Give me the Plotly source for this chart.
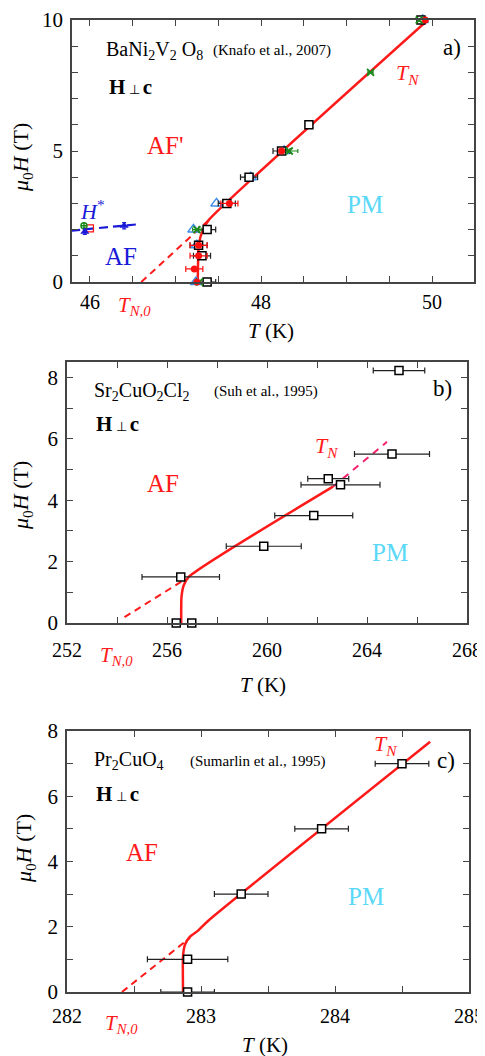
import plotly.graph_objects as go

# page is offset by the 8px body margin, so the figure is sized to fit the window
OFF = 8
W, H = 485 - OFF, 1056 - OFF
FONT = "Liberation Serif"
RED = "#ff1a1a"
PINK = "#f5206e"
BLUE_TXT = "#1a1ad8"
CYAN = "#5ad8f8"
LBLUE = "#3f8fe8"
GREEN = "#1a8a1a"

# ---------------- Panel a: BaNi2V2O8 ----------------
a_sq_T = [47.37, 47.31, 47.27, 47.37, 47.60, 47.86, 48.24, 48.56, 49.87]
a_sq_H = [0, 1.0, 1.4, 2.0, 3.0, 4.0, 5.0, 6.0, 10.0]
a_sq_err = [0.1, 0.1, 0.1, 0.1, 0.1, 0.1, 0.1, 0.0, 0.0]

a_ci_T = [47.25, 47.22, 47.27, 47.27, 47.63, 48.24, 49.92]
a_ci_H = [0, 0.5, 1.0, 1.4, 3.0, 5.0, 10.0]
a_ci_err = [0.0, 0.1, 0.1, 0.1, 0.1, 0.0, 0.0]

a_tri_T = [47.24, 47.25, 47.21, 47.48, 47.88, 48.27, 49.89]
a_tri_H = [0, 1.4, 2.0, 3.0, 4.0, 5.0, 10.0]

a_x_T = [47.28, 47.25, 48.33, 49.28, 49.85]
a_x_H = [0, 2.0, 5.0, 8.0, 10.0]
a_x_err = [0.0, 0.05, 0.1, 0.03, 0.0]

a_hs_T = [45.94, 46.40]
a_hs_H = [1.92, 2.15]
a_hs_line_T = [45.78, 46.55]
a_hs_line_H = [1.96, 2.20]
a_hs_green_T = [45.93]
a_hs_green_H = [2.15]
a_hs_red_T = [46.00]
a_hs_red_H = [2.05]

a_solid_T = [47.26, 47.27, 47.29, 47.33, 47.39, 49.95]
a_solid_H = [0, 1.3, 1.7, 2.05, 2.37, 10.0]
a_dash_T = [46.60, 47.39]
a_dash_H = [0, 2.37]

# ---------------- Panel b: Sr2CuO2Cl2 ----------------
b_sq_T = [256.37, 256.99, 256.55, 259.87, 261.87, 262.45, 262.94, 265.00, 265.28]
b_sq_H = [0, 0, 1.5, 2.5, 3.5, 4.7, 4.5, 5.5, 8.22]
b_sq_err = [0, 0, 1.55, 1.5, 1.56, 0.82, 1.58, 1.5, 1.03]

b_solid_T = [256.57, 256.58, 256.67, 256.87, 262.64]
b_solid_H = [0, 0.85, 1.23, 1.5, 4.44]
b_dash_T = [254.30, 256.60]
b_dash_H = [0.19, 1.36]
b_pink_T = [262.64, 264.80]
b_pink_H = [4.44, 5.90]

# ---------------- Panel c: Pr2CuO4 ----------------
c_sq_T = [282.90, 282.90, 283.30, 283.90, 284.50]
c_sq_H = [0, 1.0, 3.0, 5.0, 7.0]
c_sq_err = [0.2, 0.3, 0.2, 0.2, 0.2]

c_solid_T = [282.866, 282.866, 282.88, 282.916, 282.98, 283.05, 284.71]
c_solid_H = [0, 1.1, 1.45, 1.69, 1.89, 2.17, 7.67]
c_dash_T = [282.41, 282.92]
c_dash_H = [0, 1.67]

# axis ticks
a_xticks = [45.5 + 0.5 * i for i in range(11)]
a_yticks = list(range(0, 11))
b_xticks = list(range(252, 269, 2))
b_yticks = list(range(0, 9))
c_xticks = [282 + 0.5 * i for i in range(7)]
c_yticks = list(range(0, 9))


def lab(vals, every):
    out = []
    for v in vals:
        if abs(v / every - round(v / every)) < 1e-6:
            out.append(str(int(round(v))))
        else:
            out.append("")
    return out


fig = go.Figure()


def px(x):
    return (x - OFF) / W


def py(y):
    return 1 - (y - OFF) / H


def sq(T, Hv, err, ax, size=9):
    fig.add_trace(go.Scatter(
        x=T, y=Hv, mode="markers", xaxis=ax[0], yaxis=ax[1],
        marker=dict(symbol="square", size=size, color="white",
                    line=dict(color="black", width=1.5)),
        error_x=dict(type="data", array=err, color="#222", thickness=1.2, width=3),
        showlegend=False, hoverinfo="skip", cliponaxis=False))


def line(T, Hv, ax, color=RED, dash="solid", width=2.5):
    fig.add_trace(go.Scatter(
        x=T, y=Hv, mode="lines", xaxis=ax[0], yaxis=ax[1],
        line=dict(color=color, width=width, dash=dash, shape="spline", smoothing=0.6),
        showlegend=False, hoverinfo="skip"))


A = ("x", "y")
B = ("x2", "y2")
C = ("x3", "y3")

# Panel a lines
line(a_dash_T, a_dash_H, A, dash="7px,5px", width=2)
line(a_solid_T, a_solid_H, A)
line(a_hs_line_T, a_hs_line_H, A, color="#1a1ad8", dash="9px,5px", width=2.2)

# Panel a markers
fig.add_trace(go.Scatter(x=a_tri_T, y=a_tri_H, mode="markers", xaxis="x", yaxis="y",
                         marker=dict(symbol="triangle-up-open", size=10, color=LBLUE,
                                     line=dict(width=1.5)),
                         showlegend=False, hoverinfo="skip", cliponaxis=False))
sq(a_sq_T, a_sq_H, a_sq_err, A, size=8)
fig.add_trace(go.Scatter(x=a_x_T, y=a_x_H, mode="markers", xaxis="x", yaxis="y",
                         marker=dict(symbol="x-thin-open", size=7, color=GREEN,
                                     line=dict(width=1.8, color=GREEN)),
                         error_x=dict(type="data", array=a_x_err, color=GREEN, thickness=1.2, width=2),
                         showlegend=False, hoverinfo="skip", cliponaxis=False))
fig.add_trace(go.Scatter(x=a_ci_T, y=a_ci_H, mode="markers", xaxis="x", yaxis="y",
                         marker=dict(symbol="circle", size=7, color="#ff1010"),
                         error_x=dict(type="data", array=a_ci_err, color="#ff1010", thickness=1.2, width=3),
                         showlegend=False, hoverinfo="skip", cliponaxis=False))
fig.add_trace(go.Scatter(x=a_hs_red_T, y=a_hs_red_H, mode="markers", xaxis="x", yaxis="y",
                         marker=dict(symbol="square-open", size=7, color="#ff1010", line=dict(width=1.2)),
                         showlegend=False, hoverinfo="skip"))
fig.add_trace(go.Scatter(x=a_hs_green_T, y=a_hs_green_H, mode="markers", xaxis="x", yaxis="y",
                         marker=dict(symbol="circle-cross-open", size=6, color=GREEN, line=dict(width=1.5)),
                         showlegend=False, hoverinfo="skip"))
fig.add_trace(go.Scatter(x=a_hs_T, y=a_hs_H, mode="markers", xaxis="x", yaxis="y",
                         marker=dict(symbol="triangle-up", size=8, color="#1a1ad8"),
                         error_y=dict(type="data", array=[0.1, 0.12], color="#1a1ad8", thickness=1.2, width=2),
                         showlegend=False, hoverinfo="skip"))

# Panel b
line(b_dash_T, b_dash_H, B, dash="7px,5px", width=2)
line(b_pink_T, b_pink_H, B, color=PINK, dash="7px,6px", width=2)
line(b_solid_T, b_solid_H, B)
sq(b_sq_T, b_sq_H, b_sq_err, B, size=8)

# Panel c
line(c_dash_T, c_dash_H, C, dash="7px,5px", width=2)
line(c_solid_T, c_solid_H, C)
sq(c_sq_T, c_sq_H, c_sq_err, C, size=8)


def axis_style(rng, ticks, every, dom, fs=21, so=4):
    return dict(range=rng, domain=dom, tickmode="array", tickvals=ticks, ticktext=lab(ticks, every),
                ticks="inside", ticklen=6, tickwidth=1.2, tickcolor="#444",
                showline=True, linecolor="#444", linewidth=1.5, mirror="ticks",
                showgrid=False, zeroline=False, automargin=False,
                tickfont=dict(family=FONT, size=fs, color="black"), ticklabelstandoff=so)


fig.update_layout(
    width=W, height=H, margin=dict(l=0, r=0, t=0, b=0, autoexpand=False),
    plot_bgcolor="white", paper_bgcolor="white",
    xaxis=dict(axis_style([45.79, 50.49], a_xticks, 2, [px(72), px(474)], 20, 1), anchor="y"),
    yaxis=dict(axis_style([0, 10], a_yticks, 5, [py(282), py(20)], 21, 3), anchor="x"),
    xaxis2=dict(axis_style([252, 268], b_xticks, 4, [px(67), px(467)], 20, 8), anchor="y2"),
    yaxis2=dict(axis_style([0, 8.5], b_yticks, 2, [py(623), py(362)], 21, 3), anchor="x2"),
    xaxis3=dict(axis_style([282, 285], c_xticks, 1, [px(67), px(469)], 20, 5), anchor="y3"),
    yaxis3=dict(axis_style([0, 8], c_yticks, 2, [py(992), py(731)], 21, 3), anchor="x3"),
)

ann = []


def T(xp, yp, text, size=20, color="black", xanchor="center", angle=0):
    ann.append(dict(x=px(xp), y=py(yp), xref="paper", yref="paper", text=text, showarrow=False,
                    xanchor=xanchor, yanchor="middle", textangle=angle,
                    font=dict(family=FONT, size=size, color=color)))


HC = "<b>H</b><span style='font-size:13px'> ⊥ </span><b>c</b>"
YT = "<i>μ</i><sub>0</sub><i>H</i> (T)"
XT = "<i>T</i> (K)"
TN = "<i>T<sub>N</sub></i>"
TN0 = "<i>T<sub>N,0</sub></i>"

# panel a texts
T(104, 50, "BaNi<sub>2</sub>V<sub>2</sub> O<sub>8</sub>", 20, xanchor="left")
T(211, 50, "(Knafo et al., 2007)", 15, xanchor="left")
T(452, 47, "a)", 23)
T(107, 87, HC, 21, xanchor="left")
T(165, 145, "AF'", 25, RED)
T(121, 256, "AF", 25, BLUE_TXT)
T(365, 205, "PM", 25, CYAN)
T(407, 74, TN, 22, RED)
T(92, 210, "<i>H</i><sup>*</sup>", 22, BLUE_TXT)
T(134, 306, TN0, 21, RED)
T(22, 158, YT, 22, angle=-90)
T(271, 331, XT, 21)

# panel b texts
T(92, 392, "Sr<sub>2</sub>CuO<sub>2</sub>Cl<sub>2</sub>", 20, xanchor="left")
T(212, 392, "(Suh et al., 1995)", 15, xanchor="left")
T(442, 388, "b)", 23)
T(94, 424, HC, 21, xanchor="left")
T(163, 483, "AF", 25, RED)
T(390, 552, "PM", 25, CYAN)
T(326, 447, TN, 22, RED)
T(116, 656, TN0, 21, RED)
T(22, 496, YT, 22, angle=-90)
T(263, 685, XT, 21)

# panel c texts
T(92, 760, "Pr<sub>2</sub>CuO<sub>4</sub>", 20, xanchor="left")
T(188, 761, "(Sumarlin et al., 1995)", 15, xanchor="left")
T(446, 760, "c)", 23)
T(385, 745, TN, 22, RED)
T(94, 794, HC, 21, xanchor="left")
T(142, 852, "AF", 25, RED)
T(366, 896, "PM", 25, CYAN)
T(121, 1024, TN0, 21, RED)
T(25, 849, YT, 22, angle=-90)
T(265, 1045, XT, 21)

fig.update_layout(annotations=ann)
fig.write_html("out.html")
